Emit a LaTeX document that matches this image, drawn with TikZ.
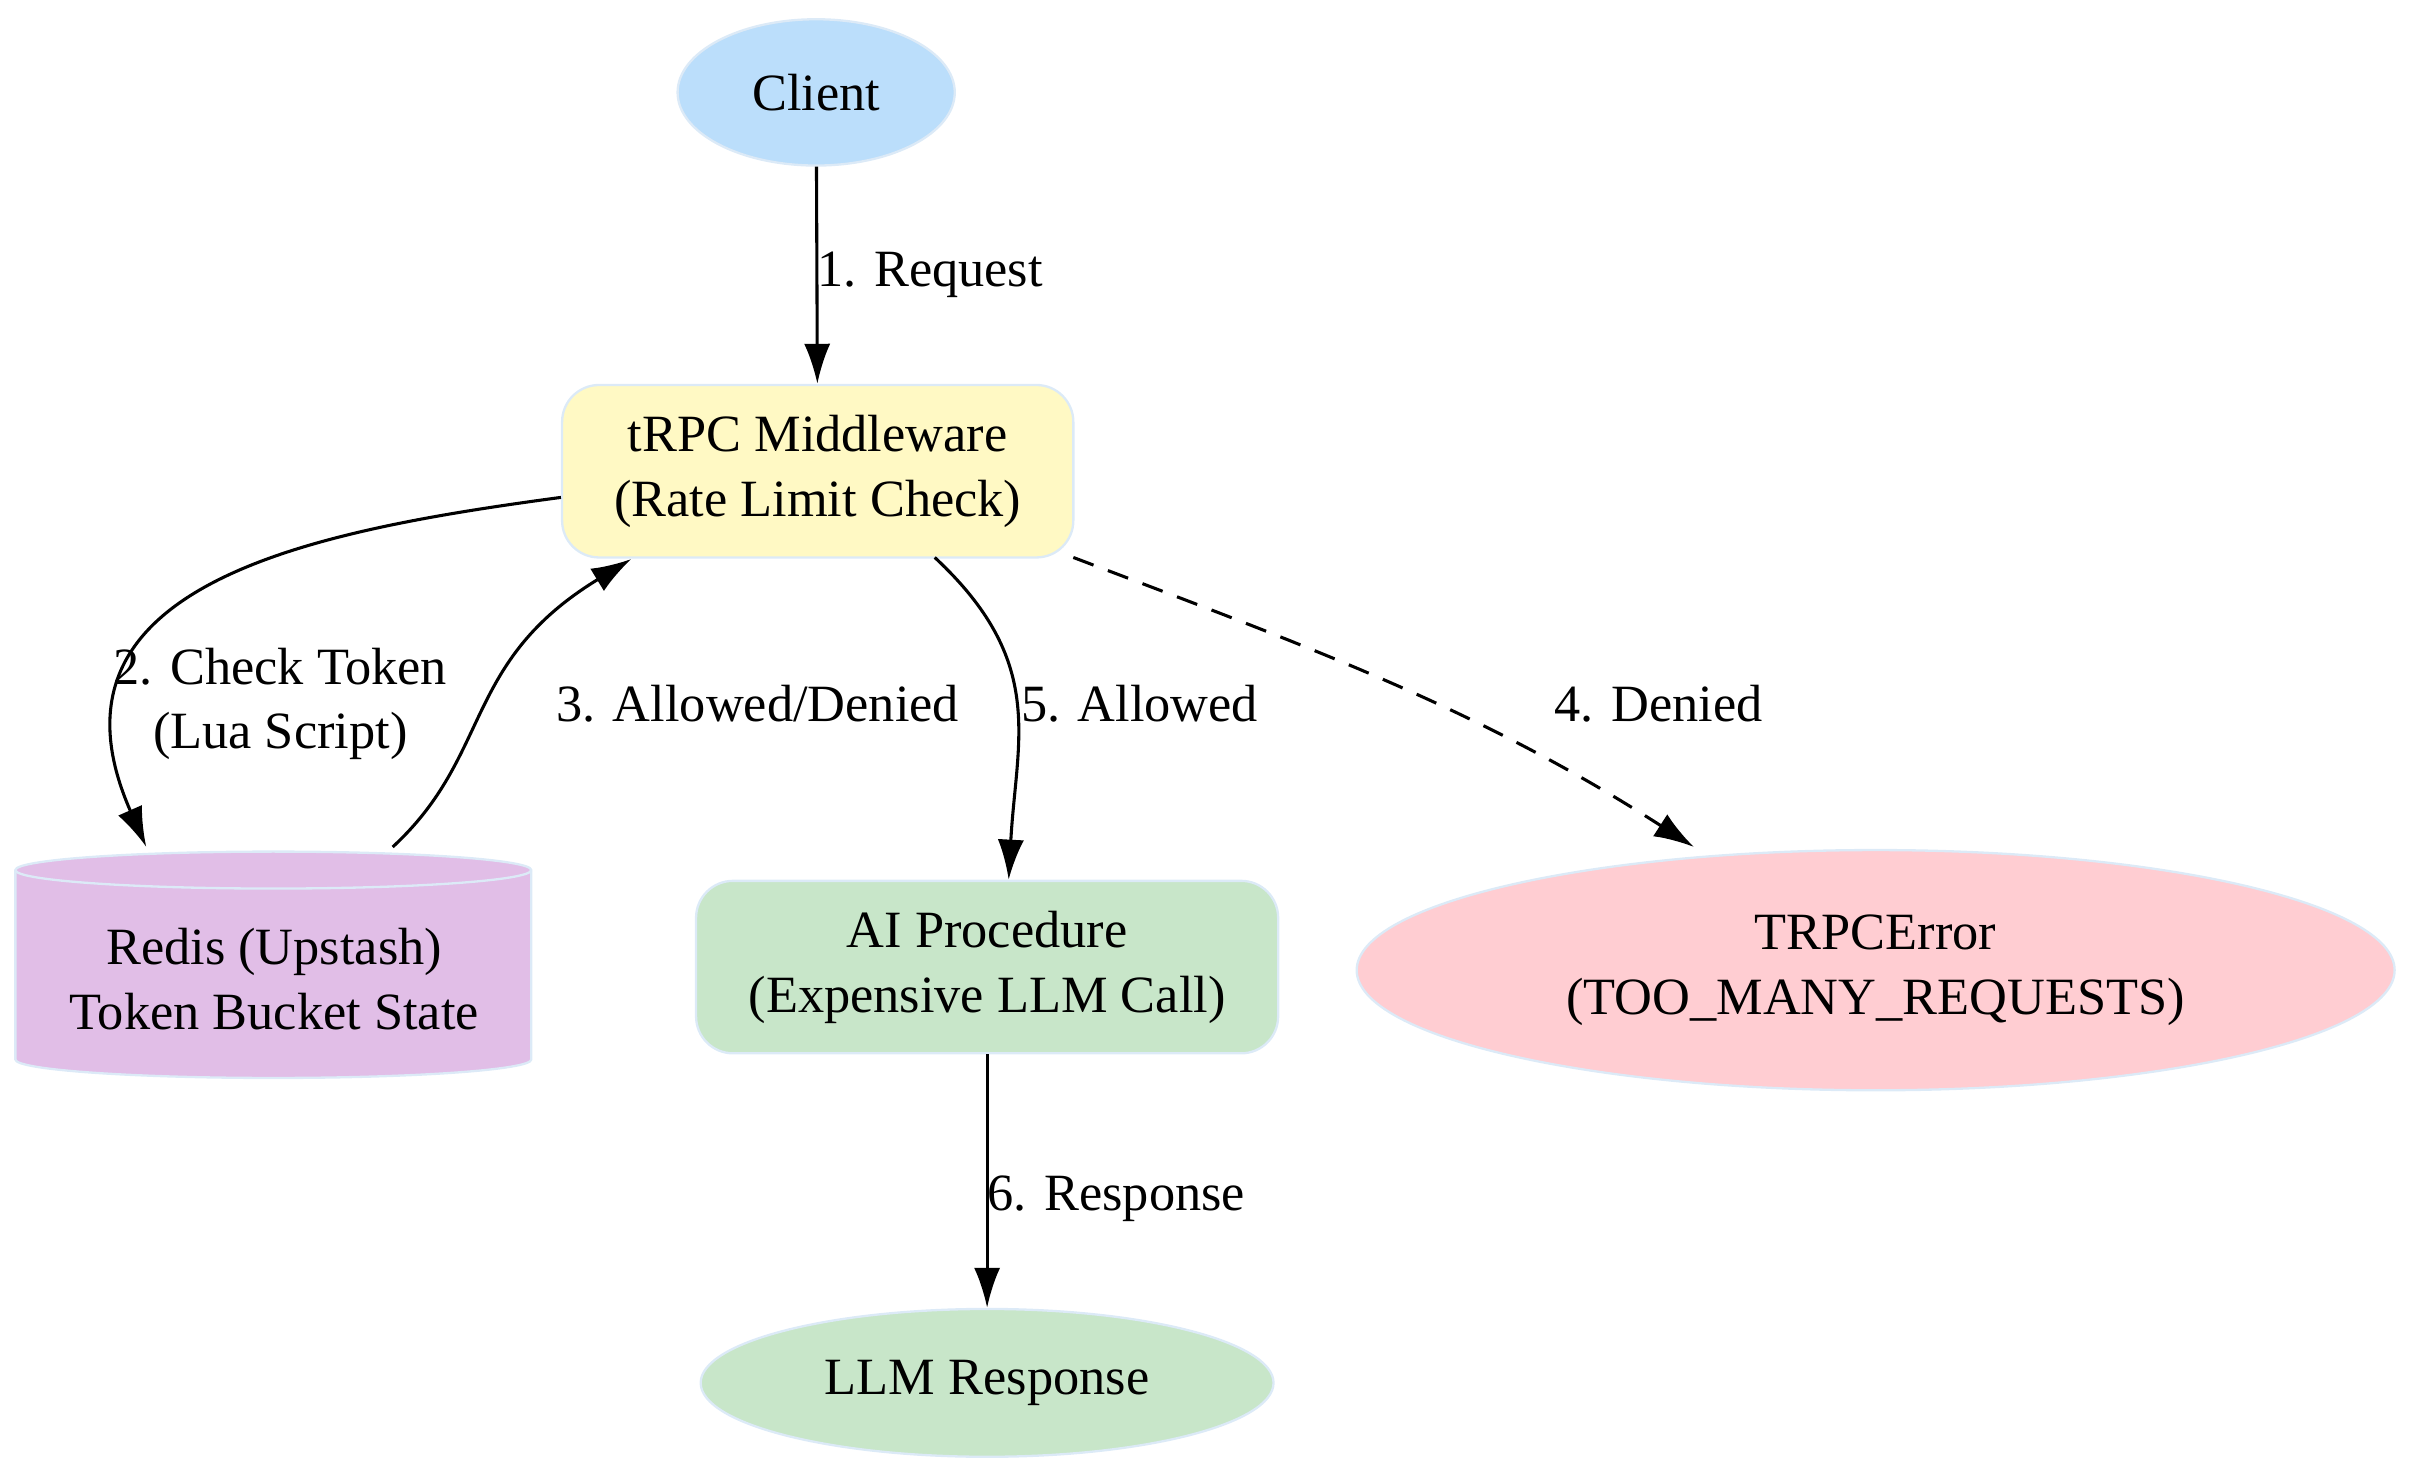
\documentclass[tikz,border=0pt]{standalone}
\usepackage{fontspec}
\setmainfont{Liberation Serif}
\usetikzlibrary{shapes.geometric,arrows.meta}
\definecolor{edgeblue}{HTML}{DCEAF7}
\definecolor{clientfill}{HTML}{BBDEFB}
\definecolor{mwfill}{HTML}{FFF9C4}
\definecolor{redisfill}{HTML}{E1BEE7}
\definecolor{aifill}{HTML}{C8E6C9}
\definecolor{errfill}{HTML}{FFCDD2}
\tikzset{basic/.style={draw=edgeblue,line width=1.5pt,align=center,
                       font=\fontsize{34}{42}\selectfont}}
\tikzset{oval/.style={basic,ellipse,inner sep=0pt}}
\tikzset{box/.style={basic,rectangle,rounded corners=24pt}}
\tikzset{myarrow/.style={-{Latex[length=26pt,width=17pt]},line width=2pt}}
\tikzset{lbl/.style={font=\fontsize{34}{42}\selectfont,align=center}}
\begin{document}
\begin{tikzpicture}[x=1pt,y=-1pt]
    \useasboundingbox (0,0) rectangle (1565,955);
    % Draw nodes
    \node[oval,fill=clientfill,minimum width=180pt,minimum height=95pt] (client) at (530,60) {Client};
    \node[box,fill=mwfill,minimum width=332pt,minimum height=112pt] (mw) at (531,306) {tRPC Middleware\\(Rate Limit Check)};
    \node[box,fill=aifill,minimum width=378pt,minimum height=112pt] (ai) at (641,628) {AI Procedure\\(Expensive LLM Call)};
    \node[oval,fill=errfill,minimum width=674pt,minimum height=156pt] (err) at (1218,630) {TRPCError\\(TOO\_MANY\_REQUESTS)};
    \node[oval,fill=aifill,minimum width=372pt,minimum height=96pt] (llm) at (641,898) {LLM Response};
    % Redis cylinder drawn by hand
    \fill[redisfill,draw=edgeblue,line width=1.5pt] (10,565) -- (10,688) arc[start angle=180,end angle=360,x radius=167.5pt,y radius=12pt]
        -- (345,565) arc[start angle=0,end angle=180,x radius=167.5pt,y radius=12pt] -- cycle;
    \draw[edgeblue,line width=1.5pt] (10,565) arc[start angle=180,end angle=360,x radius=167.5pt,y radius=12pt];
    \node[lbl] (redis) at (178,636) {Redis (Upstash)\\Token Bucket State};
    \coordinate (redisin) at (95,550);
    \coordinate (redisout) at (255,550);
    % Edges
    \draw[myarrow] (client) -- node[lbl,right=-4pt] {1. Request} (mw);
    \draw[myarrow] (mw.west |- 0,323) .. controls (200,345) and (20,380) .. (redisin);
    \node[lbl] (l2) at (182,457) {2. Check Token\\(Lua Script)};
    \draw[myarrow] (redisout) .. controls (320,490) and (300,430) .. (410,363);
    \node[lbl] (l3) at (492,457) {3. Allowed/Denied};
    \draw[myarrow] (607,362) .. controls (680,430) and (660,480) .. (ai.north -| 655,0);
    \node[lbl] (l5) at (740,457) {5. Allowed};
    \draw[myarrow,dash pattern=on 14pt off 10pt] (697,362) .. controls (850,420) and (960,460) .. (1100,550);
    \node[lbl] (l4) at (1077,457) {4. Denied};
    \draw[myarrow] (ai) -- node[lbl,right=-4pt,pos=0.57] {6. Response} (llm);
\end{tikzpicture}
\end{document}
